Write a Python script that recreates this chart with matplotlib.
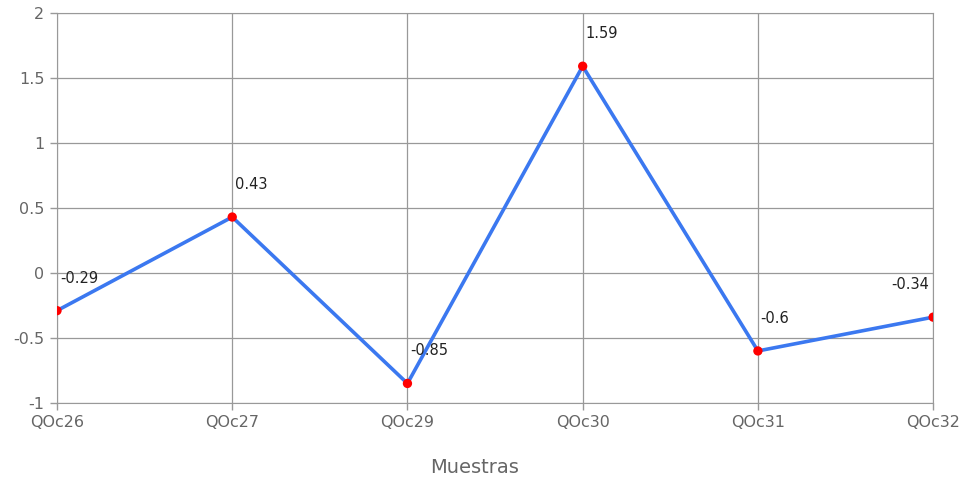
import numpy as np
import matplotlib.pyplot as plt

plt.rcParams['font.family'] = ['DejaVu Sans']

muestras = ['QOc26', 'QOc27', 'QOc29', 'QOc30', 'QOc31', 'QOc32']
valores = [-0.29, 0.43, -0.85, 1.59, -0.6, -0.34]
y_ticks = [-1, -0.5, 0, 0.5, 1, 1.5, 2]

fig = plt.figure(figsize=(9.71, 4.78), dpi=100)
ax = fig.add_axes([0.0587, 0.157, 0.9023, 0.816])

x = np.arange(len(muestras))
ax.plot(x, valores, color='#3b78f0', lw=2.6, zorder=3)
ax.scatter(x, valores, color='#ff0000', s=45, zorder=4, edgecolors='none')

for i, v in enumerate(valores):
    if i == len(valores) - 1:
        ax.annotate(str(v), (i, v), xytext=(-3, 18), textcoords='offset points',
                    ha='right', va='bottom', fontsize=10.5, color='#222222')
    else:
        ax.annotate(str(v), (i, v), xytext=(2, 18), textcoords='offset points',
                    ha='left', va='bottom', fontsize=10.5, color='#222222')

ax.set_xlim(0, len(muestras) - 1)
ax.set_ylim(-1, 2)
ax.set_xticks(x)
ax.set_xticklabels(muestras)
ax.set_yticks(y_ticks)
ax.set_yticklabels([('%g' % t) for t in y_ticks])
ax.grid(True, color='#999999', lw=0.9)
for s in ax.spines.values():
    s.set_color('#999999')
ax.tick_params(colors='#999999', labelcolor='#666666', labelsize=11.5, length=5, width=1)
ax.tick_params(axis='x', pad=4)
ax.tick_params(axis='y', pad=4)
ax.set_xlabel('Muestras', fontsize=14, color='#666666')
ax.xaxis.set_label_coords(0.477, -0.14)

plt.savefig('out.png', dpi=100)
